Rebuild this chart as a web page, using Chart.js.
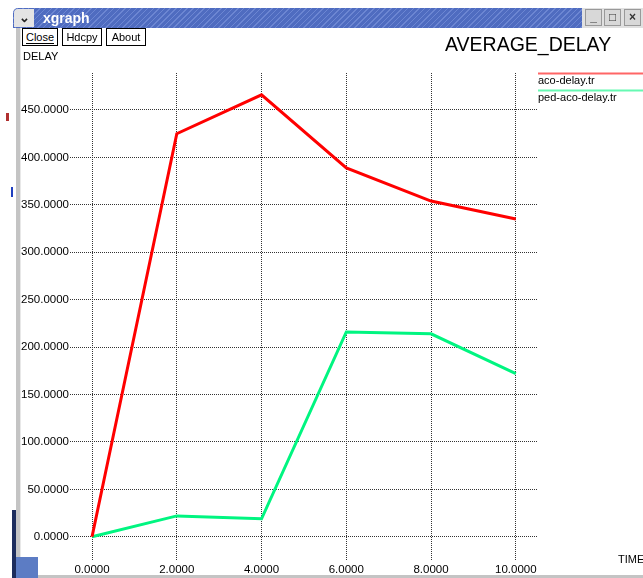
<!DOCTYPE html>
<html>
  <head>
    <meta charset="utf-8">
    <title>AVERAGE_DELAY</title>
    <script src="https://cdn.jsdelivr.net/npm/chart.js@4.4.0/dist/chart.umd.min.js"></script>
    <style>
    html, body {
      margin: 0;
      padding: 0;
      width: 643px;
      height: 578px;
      overflow: hidden;
      background: #fff;
      font-family: "Liberation Sans", Arial, sans-serif;
    }
    #wrap { position: absolute; left: 0; top: 0; width: 643px; height: 578px; }
    .abs { position: absolute; }
    #titlebar {
      left: 13px; top: 8px; width: 630px; height: 20px;
      border-radius: 5px 0 0 0;
      background: repeating-linear-gradient(135deg, #4f6cc0 0 3px, #6c86d2 3px 4px);
    }
    #menubtn {
      left: 14px; top: 9px; width: 20px; height: 18px;
      background: #e4e4e4; border-radius: 4px 0 0 0;
      font-size: 13px; line-height: 18px; text-align: center; color: #222; font-weight: bold;
    }
    #wtitle { left: 43px; top: 8px; color: #fff; font-weight: bold; font-size: 14px; line-height: 20px; }
    .wbtn {
      top: 9px; width: 17px; height: 17px; background: #d8d8d8;
      border: 1px solid #999; box-sizing: border-box;
      font-size: 12px; line-height: 15px; text-align: center; color: #333; font-weight: bold;
    }
    .btn {
      top: 28px; height: 18px; border: 1px solid #000; box-sizing: border-box;
      font-size: 11px; line-height: 16px; text-align: center; background: #fff;
    }
    #leftframe { left: 16px; top: 28px; width: 4px; height: 548px; background: #c4c4c4; border-right: 1px solid #e8e8e8; }
    #bottomframe { left: 16px; top: 575px; width: 627px; height: 3px; background: #c4c4c4; }
    </style>
  </head>
  <body>
    <div id="wrap"><canvas id="myChart" width="643" height="578"></canvas></div>

    <div class="abs" id="leftframe"></div>
    <div class="abs" id="bottomframe"></div>
    <div class="abs" style="left:12px;top:510px;width:4px;height:68px;background:#1c2c5c"></div>
    <div class="abs" style="left:16px;top:557px;width:22px;height:21px;background:#5c7cc4"></div>
    <div class="abs" style="left:6px;top:113px;width:3px;height:8px;background:#b03030"></div>
    <div class="abs" style="left:11px;top:187px;width:2px;height:10px;background:#2040c0"></div>

    <div class="abs" id="titlebar"></div>
    <div class="abs" id="menubtn">&#8964;</div>
    <div class="abs" id="wtitle">xgraph</div>
    <div class="abs" style="left:582px;top:8px;width:61px;height:20px;background:#e0e0e0"></div>
    <div class="abs wbtn" style="left:585px">_</div>
    <div class="abs wbtn" style="left:604px">&#9633;</div>
    <div class="abs wbtn" style="left:624px">&#215;</div>

    <div class="abs btn" style="left:22px;width:36px"><span style="border-bottom:1px solid #000">Close</span></div>
    <div class="abs btn" style="left:62px;width:40px">Hdcpy</div>
    <div class="abs btn" style="left:106px;width:40px">About</div>

    <div class="abs" style="left:23px;top:50px;font-size:11px">DELAY</div>
    <div class="abs" style="left:445px;top:33px;font-size:19.5px">AVERAGE_DELAY</div>
    <div class="abs" style="left:618px;top:553px;font-size:11px">TIME</div>

    <script>
      // values
      const timeValues = [0, 2, 4, 6, 8, 10];
      const acoDelay = [0, 425, 466, 389, 354, 335];
      const pedAcoDelay = [0, 22, 19, 216, 214, 172];
      const xTicks = [0, 2, 4, 6, 8, 10];
      const yTicks = [0, 50, 100, 150, 200, 250, 300, 350, 400, 450];
      const seriesNames = ['aco-delay.tr', 'ped-aco-delay.tr'];
      const seriesColors = ['#ff0000', '#00f580'];

      function points(ys) {
        return timeValues.map((t, i) => ({x: t, y: ys[i]}));
      }

      // xgraph style legend: a line above each name, right of the plot
      const sideLegend = {
        id: 'sideLegend',
        afterDraw(chart) {
          const ctx = chart.ctx;
          const left = chart.chartArea.right + 1;
          ctx.save();
          chart.data.datasets.forEach((ds, i) => {
            const y = chart.chartArea.top + i * 17;
            ctx.strokeStyle = ds.borderColor;
            ctx.globalAlpha = 0.6;
            ctx.lineWidth = 2;
            ctx.beginPath();
            ctx.moveTo(left, y + 0.5);
            ctx.lineTo(chart.width, y + 0.5);
            ctx.stroke();
            ctx.globalAlpha = 1;
            ctx.fillStyle = '#000';
            ctx.font = '11px "Liberation Sans", Arial, sans-serif';
            ctx.textBaseline = 'middle';
            ctx.fillText(ds.label, left, y + 8);
          });
          ctx.restore();
        }
      };

      const tickFont = { family: '"Liberation Sans", Arial, sans-serif', size: 11.5 };

      var ctx = document.getElementById('myChart').getContext('2d');
      var myChart = new Chart(ctx, {
        type: 'line',
        data: {
          datasets: [{
            label: seriesNames[0],
            data: points(acoDelay),
            borderColor: seriesColors[0],
            borderWidth: 3,
            pointRadius: 0,
            tension: 0
          }, {
            label: seriesNames[1],
            data: points(pedAcoDelay),
            borderColor: seriesColors[1],
            borderWidth: 3,
            pointRadius: 0,
            tension: 0
          }]
        },
        options: {
          responsive: false,
          animation: false,
          layout: { padding: { left: 0, right: 106, top: 73, bottom: 0 } },
          plugins: { legend: { display: false }, tooltip: { enabled: false } },
          scales: {
            x: {
              type: 'linear',
              min: -0.52,
              max: 10.5,
              afterBuildTicks: s => { s.ticks = xTicks.map(v => ({value: v})); },
              afterFit: s => { s.height = 18; },
              grid: { color: '#333', lineWidth: 1, drawTicks: false },
              border: { display: false, dash: [1, 1] },
              ticks: {
                padding: 3,
                maxRotation: 0,
                color: '#000',
                font: tickFont,
                callback: v => v.toFixed(4)
              }
            },
            y: {
              min: -24.5,
              max: 489,
              afterBuildTicks: s => { s.ticks = yTicks.map(v => ({value: v})); },
              afterFit: s => { s.width = 70; },
              grid: { color: '#333', lineWidth: 1, drawTicks: false },
              border: { display: false, dash: [1, 1] },
              ticks: {
                padding: 1,
                color: '#000',
                font: tickFont,
                callback: v => v.toFixed(4)
              }
            }
          }
        },
        plugins: [sideLegend]
      });
    </script>
  </body>
</html>
